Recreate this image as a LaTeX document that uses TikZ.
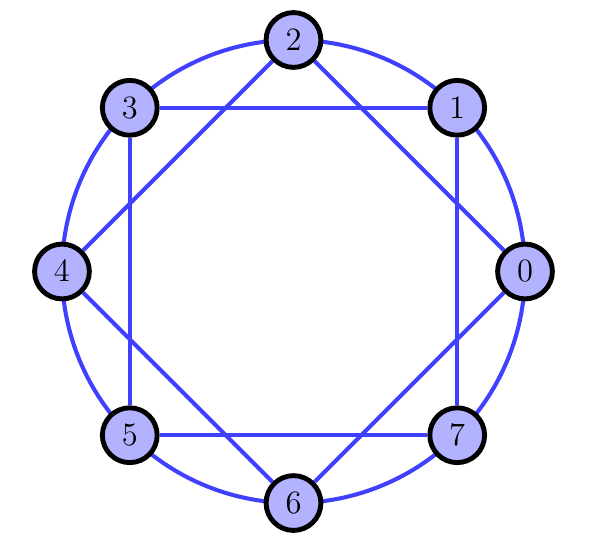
\documentclass[tikz,border=0pt]{standalone}
\usepackage{tikz}
\usetikzlibrary{positioning}

\tikzset{
  vertex/.style={circle, draw=black, line width=1.8pt, fill=blue!30, minimum size=0.71cm, inner sep=0pt, font=\large},
  ring/.style={draw=blue!75, line width=1.5pt},
}

\begin{document}
\begin{tikzpicture}
  \useasboundingbox (-3.803, -3.583) rectangle (3.894, 3.518);

  % Outer circle
  \draw[ring] (0,0) circle (3cm);

  % Vertices
  \foreach \i in {0,...,7} {
    \node[vertex] (v\i) at (45*\i:3cm) {$\i$};
  }

  % Chords (skip one)
  \foreach \i in {0,...,7} {
    \pgfmathtruncatemacro{\j}{mod(\i+2,8)}
    \draw[ring] (v\i) -- (v\j);
  }
\end{tikzpicture}
\end{document}
